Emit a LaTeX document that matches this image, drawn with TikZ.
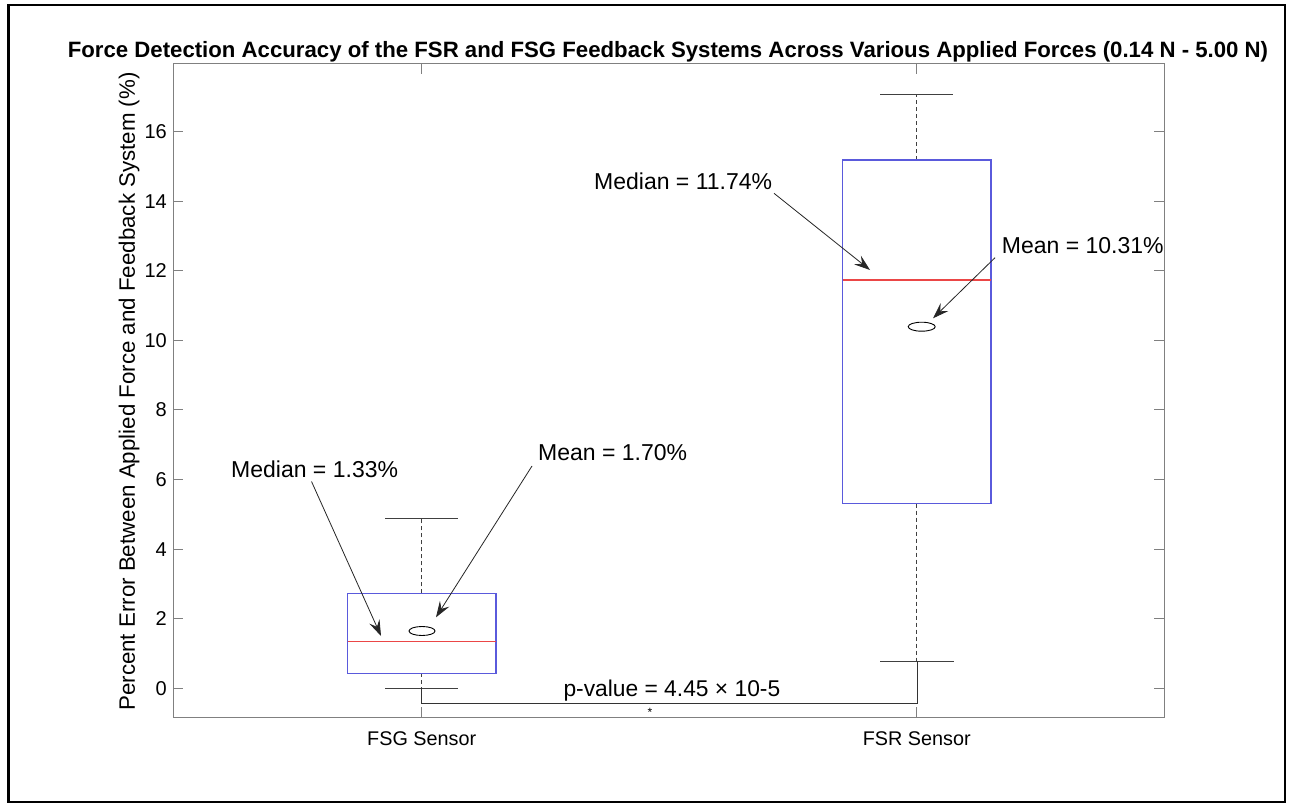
\documentclass[tikz,border=0pt]{standalone}
\usepackage{fontspec}
\setmainfont{Liberation Sans}
\usetikzlibrary{arrows.meta,shapes.geometric}
\definecolor{boxblue}{RGB}{90,90,220}
\definecolor{medred}{RGB}{235,70,70}
\definecolor{axgray}{RGB}{128,128,128}
\tikzset{
  axline/.style={draw=axgray, line width=1pt},
  boxline/.style={draw=boxblue, line width=1.5pt},
  medline/.style={draw=medred, line width=1.5pt},
  whisk/.style={draw=black!75, line width=0.9pt, dash pattern=on 4pt off 3pt},
  capline/.style={draw=black!75, line width=0.9pt},
  meanmark/.style={draw=black, line width=0.9pt},
  ann/.style={inner sep=0pt, anchor=base west, font=\fontsize{23}{27}\selectfont},
  ticklbl/.style={inner sep=0pt, anchor=east, font=\fontsize{20}{24}\selectfont},
  annarrow/.style={draw=black!85, line width=0.8pt, -{Stealth[length=16pt,width=11pt,inset=6pt]}},
  bracket/.style={draw=black!80, line width=0.9pt}
}
\begin{document}
\begin{tikzpicture}[x=1pt,y=-1pt]
\useasboundingbox (0,0) rectangle (1289,805);
\fill[white] (0,0) rectangle (1289,805);
\draw[line width=2.6pt] (8.5,5) rectangle (1285,802);

% title
\node[inner sep=0pt, anchor=base, font=\bfseries\fontsize{22.2}{26}\selectfont] (title) at (668,57.3)
  {Force Detection Accuracy of the FSR and FSG Feedback Systems Across Various Applied Forces (0.14 N - 5.00 N)};

% axes
\draw[axline] (173,64) rectangle (1164,717);
\foreach \v in {0,2,...,16} {
  \draw[axline] (173,{688.3-34.79*\v}) -- ++(10,0);
  \draw[axline] (1164,{688.3-34.79*\v}) -- ++(-10,0);
  \node[ticklbl] at (167,{688.3-34.79*\v}) {\v};
}
\foreach \xx in {421.7,916.7} {
  \draw[axline] (\xx,717) -- ++(0,-10);
  \draw[axline] (\xx,64) -- ++(0,10);
}
\node[inner sep=0pt, rotate=90, font=\fontsize{22.3}{27}\selectfont] (ylabel) at (129,391.5)
  {Percent Error Between Applied Force and Feedback System (\%)};
\node[inner sep=0pt, anchor=base, font=\fontsize{19.8}{24}\selectfont] (xl1) at (421.7,745) {FSG Sensor};
\node[inner sep=0pt, anchor=base, font=\fontsize{19.8}{24}\selectfont] (xl2) at (916.7,745) {FSR Sensor};

% whiskers
\draw[whisk] (421.7,593.3) -- (421.7,518.6);
\draw[whisk] (421.7,673.3) -- (421.7,688.3);
\draw[capline] (385,518.6) -- (458,518.6);
\draw[capline] (385,688.3) -- (458,688.3);
\draw[whisk] (916.7,160) -- (916.7,94);
\draw[whisk] (916.7,503.5) -- (916.7,661);
\draw[capline] (880,94) -- (953,94);
\draw[capline] (880,661) -- (954,661);

% boxes
\draw[boxline] (842.5,160) rectangle (991,503.5);
\draw[medline] (842.5,280) -- (991,280);
\draw[boxline] (347.5,593.5) -- (496,593.5) -- (496,673.5) -- (347.5,673.5) -- cycle;
\draw[medline] (347.5,641.5) -- (496,641.5);

\node[meanmark, ellipse, minimum width=26pt, minimum height=9pt, inner sep=0pt] (mean1) at (422,631) {};
\node[meanmark, ellipse, minimum width=27pt, minimum height=9pt, inner sep=0pt] (mean2) at (921.7,326.7) {};

% significance bracket
\coordinate (b1) at (421.7,688.3);
\coordinate (b2) at (421.7,703.3);
\coordinate (b3) at (917.7,703.3);
\coordinate (b4) at (917.7,661);
\draw[bracket] (b1) -- (b2) -- (b3) -- (b4);
\node[ann, font=\fontsize{22.8}{26}\selectfont] (pval) at (563.3,696.7) {p-value = 4.45 × 10-5};
\node[inner sep=0pt, font=\fontsize{12}{14}\selectfont] (star) at (650,712) {*};

% annotations
\node[ann] (t1) at (231,477.3) {Median = 1.33\%};
\node[ann] (t2) at (538,460.7) {Mean = 1.70\%};
\node[ann] (t3) at (594,189.3) {Median = 11.74\%};
\node[ann] (t4) at (1001.7,253.3) {Mean = 10.31\%};

\coordinate (s1) at (311.5,481.5);
\coordinate (e1) at (381,636);
\coordinate (s2) at (532,466);
\coordinate (e2) at (436,617.3);
\coordinate (s3) at (774,193.3);
\coordinate (e3) at (870,270);
\coordinate (s4) at (995,257.7);
\coordinate (e4) at (933,318.3);
\draw[annarrow] (s1) -- (e1);
\draw[annarrow] (s2) -- (e2);
\draw[annarrow] (s3) -- (e3);
\draw[annarrow] (s4) -- (e4);
\end{tikzpicture}
\end{document}
